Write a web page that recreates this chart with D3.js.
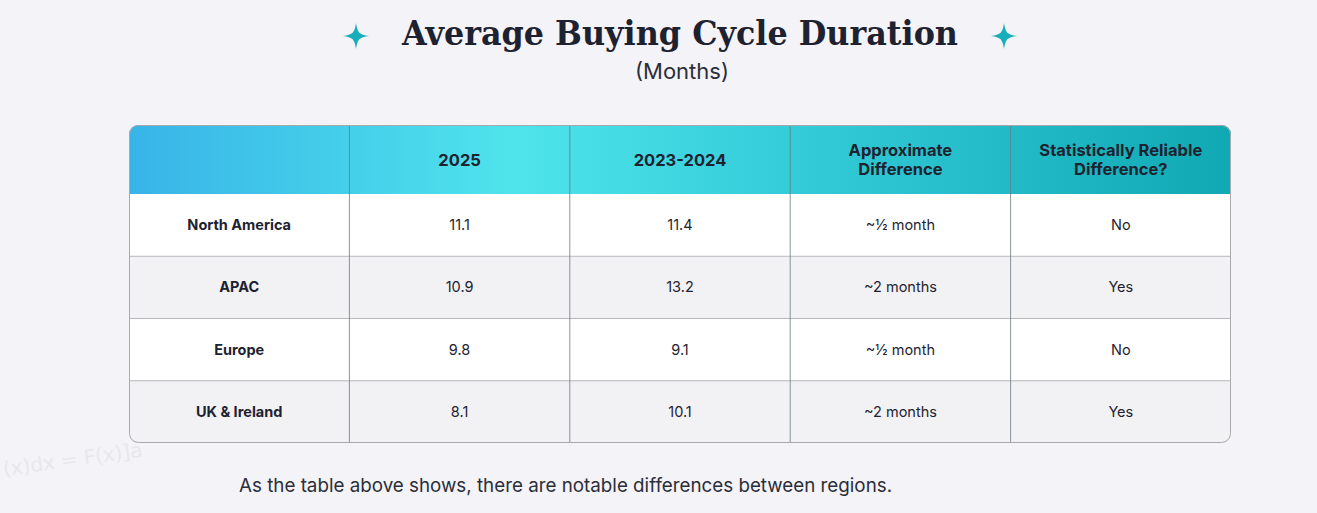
<!DOCTYPE html>
<html><head><meta charset="utf-8">
<script src="https://cdn.jsdelivr.net/npm/d3@7/dist/d3.min.js"></script>
<style>body{margin:0;background:#f4f3f7;}</style></head>
<body><svg id="c" width="1317" height="513"></svg>
<script>
const columns = ["", "2025", "2023-2024", "Approximate\nDifference", "Statistically Reliable\nDifference?"];
const regions = ["North America", "APAC", "Europe", "UK & Ireland"];
const values2025 = [11.1, 10.9, 9.8, 8.1];
const values2023 = [11.4, 13.2, 9.1, 10.1];
const approxDiff = ["~½ month", "~2 months", "~½ month", "~2 months"];
const reliable = ["No", "Yes", "No", "Yes"];

const svg = d3.select("#c");
const L = 129, R = 1231, T = 125, HB = 194, B = 443;
const x = d3.scaleBand().domain(d3.range(columns.length)).range([L, R]);
const y = d3.scaleBand().domain(regions).range([HB, B]);
const font = "Inter, 'Noto Sans', sans-serif";

const defs = svg.append("defs");
const g = defs.append("linearGradient").attr("id","hg");
[[0,"#38b4e8"],[0.35,"#4fe4ec"],[0.6,"#33ccd8"],[1,"#0fa8b3"]].forEach(([o,c])=>g.append("stop").attr("offset",o).attr("stop-color",c));
defs.append("clipPath").attr("id","cp").append("rect").attr("x",L).attr("y",T).attr("width",R-L).attr("height",B-T).attr("rx",9);

const tb = svg.append("g").attr("clip-path","url(#cp)");
tb.append("rect").attr("x",L).attr("y",T).attr("width",R-L).attr("height",HB-T).attr("fill","url(#hg)");
tb.selectAll(".row").data(regions).join("rect")
  .attr("x",L).attr("y",d=>y(d)).attr("width",R-L).attr("height",y.bandwidth())
  .attr("fill",(d,i)=>i%2?"#f2f2f4":"#ffffff");
tb.selectAll(".hl").data(regions.slice(1)).join("line")
  .attr("x1",L).attr("x2",R).attr("y1",d=>y(d)).attr("y2",d=>y(d)).attr("stroke","#b8b8bc");
tb.selectAll(".vl").data(d3.range(1,columns.length)).join("line")
  .attr("x1",d=>x(d)).attr("x2",d=>x(d)).attr("y1",T).attr("y2",B).attr("stroke","#6b7a80").attr("stroke-width",0.8);
svg.append("rect").attr("x",L+0.5).attr("y",T+0.5).attr("width",R-L-1).attr("height",B-T-1).attr("rx",9)
  .attr("fill","none").attr("stroke","#a9a9ad");

columns.forEach((c,i)=>{
  const lines = c.split("\n");
  const t = svg.append("text").attr("x",x(i)+x.bandwidth()/2).attr("text-anchor","middle")
    .attr("font-family",font).attr("font-weight",700).attr("font-size",16.5).attr("fill","#1e2230");
  lines.forEach((l,k)=>t.append("tspan").attr("x",x(i)+x.bandwidth()/2)
    .attr("y",(T+HB)/2+6+(k-(lines.length-1)/2)*19).text(l));
});

const cols = [regions, values2025.map(v=>v.toFixed(1)), values2023.map(v=>v.toFixed(1)), approxDiff, reliable];
cols.forEach((arr,i)=>{
  svg.selectAll(null).data(arr).join("text")
    .attr("x",x(i)+x.bandwidth()/2).attr("y",(d,j)=>y(regions[j])+y.bandwidth()/2+5)
    .attr("text-anchor","middle").attr("font-family",font)
    .attr("font-weight",i===0?700:400).attr("font-size",14.5).attr("fill","#1e2230").text(d=>d);
});

svg.append("text").attr("x",680).attr("y",45).attr("text-anchor","middle")
  .attr("font-family","'DejaVu Serif', serif").attr("font-weight",700).attr("font-size",34)
  .attr("fill","#1e2230").attr("textLength",556).attr("lengthAdjust","spacingAndGlyphs").text("Average Buying Cycle Duration");
svg.append("text").attr("x",682).attr("y",79).attr("text-anchor","middle")
  .attr("font-family",font).attr("font-size",22).attr("fill","#2a2e3a").text("(Months)");
[356,1004].forEach(cx=>{
  svg.append("path").attr("transform",`translate(${cx},36)`)
    .attr("d","M0,-13 C1.5,-3 3,-1.5 13,0 C3,1.5 1.5,3 0,13 C-1.5,3 -3,1.5 -13,0 C-3,-1.5 -1.5,-3 0,-13Z").attr("fill","#17aebb");
});
svg.append("text").attr("x",239).attr("y",492).attr("font-family",font).attr("font-size",18.8)
  .attr("fill","#2a2e3a").text("As the table above shows, there are notable differences between regions.");
svg.append("text").attr("x",4).attr("y",476).attr("transform","rotate(-8,4,476)").attr("font-family","'DejaVu Sans'")
  .attr("font-size",20).attr("fill","#e8e8ec").text("(x)dx = F(x)]a");
</script></body></html>
